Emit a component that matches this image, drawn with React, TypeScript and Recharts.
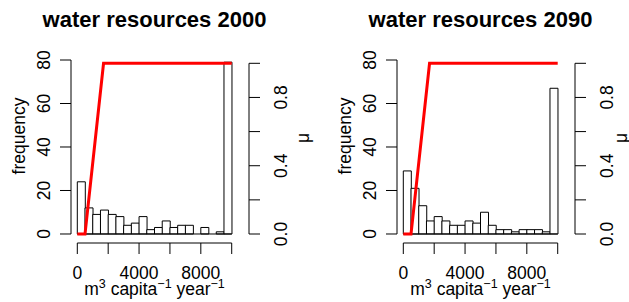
import React from 'react';
import { ComposedChart, Bar, Line, XAxis, YAxis, ReferenceLine, Label } from 'recharts';

// histogram bins (lower edge, m3 per capita per year), width 500
const binStarts = [0, 500, 1000, 1500, 2000, 2500, 3000, 3500, 4000, 4500, 5000, 5500, 6000, 6500, 7000, 7500, 8000, 8500, 9000, 9500];
// number of countries per bin
const counts2000 = [24, 12, 9, 11, 9, 8, 4, 5, 8, 2, 3, 6, 3, 4, 4, 0, 3, 0, 1, 79];
const counts2090 = [29, 21, 13, 6, 8, 6, 4, 4, 6, 5, 10, 4, 2, 2, 1, 2, 2, 2, 1, 67];

// membership function (red line)
const muBreaks = [0, 500, 1700, 10000];
const muValues = [0, 0, 1, 1];

const xTicks = [0, 2000, 4000, 6000, 8000, 10000];
const xTickLabels = ['0', '', '4000', '', '8000', ''];
const freqTicks = [0, 20, 40, 60, 80];
const freqTickLabels = ['0', '20', '40', '60', '80'];
const muTicks = [0, 0.2, 0.4, 0.6, 0.8, 1];
const muTickLabels = ['0.0', '', '0.4', '', '0.8', ''];

const FONT = '"Liberation Sans", Arial, Helvetica, sans-serif';
const FS = 17.5;

// axis domains chosen so the R-style 4% extension lands where the original plot region is
const X_DOMAIN = [-408, 11120];
const FREQ_DOMAIN = [-4.14, 81.84];
const MU_DOMAIN = [-0.0527, 1.0428];

const muLine = muBreaks.map((x, i) => ({ x, mu: muValues[i] }));

const XTick = ({ x, y, payload }: any) => {
  const label = xTickLabels[xTicks.indexOf(payload.value)];
  if (!label) return null;
  return (
    <text x={x} y={y + 25} textAnchor="middle" fontSize={FS} fontFamily={FONT} fill="#000">
      {label}
    </text>
  );
};

const FreqTick = ({ x, y, payload }: any) => {
  const label = freqTickLabels[freqTicks.indexOf(payload.value)];
  const tx = x - 10;
  return (
    <text x={tx} y={y} transform={`rotate(-90, ${tx}, ${y})`} textAnchor="middle" fontSize={FS} fontFamily={FONT} fill="#000">
      {label}
    </text>
  );
};

const MuTick = ({ x, y, payload }: any) => {
  const label = muTickLabels[muTicks.findIndex(t => Math.abs(t - payload.value) < 1e-6)];
  if (!label) return null;
  const tx = x + 26.7;
  return (
    <text x={tx} y={y} transform={`rotate(-90, ${tx}, ${y})`} textAnchor="middle" fontSize={FS} fontFamily={FONT} fill="#000">
      {label}
    </text>
  );
};

interface PanelProps {
  title: string;
  counts: number[];
  left: number;
  muLabelX: number;
}

const Panel: React.FC<PanelProps> = ({ title, counts, left, muLabelX }) => {
  const data = binStarts.map((b, i) => ({ bin: b, n: counts[i] }));
  return (
    <div style={{ position: 'absolute', left, top: 0, width: 326, height: 302 }}>
      <div
        style={{
          position: 'absolute', left: 0, top: 8.7, width: 309, textAlign: 'center',
          font: `bold 22px ${FONT}`, lineHeight: '22px', color: '#000',
        }}
      >
        {title}
      </div>
      <ComposedChart
        width={326}
        height={302}
        data={data}
        barCategoryGap={0}
        barGap={0}
        margin={{ top: 56, right: 0, bottom: 19, left: 0 }}
      >
        <XAxis xAxisId="bin" dataKey="bin" type="category" orientation="top" height={0} hide padding={{ left: 6.3, right: 17.3 }} />
        <XAxis
          xAxisId="num"
          dataKey="x"
          type="number"
          domain={X_DOMAIN}
          allowDataOverflow
          ticks={xTicks}
          interval={0}
          height={40}
          axisLine={false}
          tickSize={11}
          tickMargin={0}
          stroke="#000"
          tickLine={{ stroke: '#000' }}
          tick={<XTick />}
        >
          <Label
            content={() => (
              <text x={154.5} y={295} textAnchor="middle" fontSize={FS} fontFamily={FONT} fill="#000">
                m<tspan dy={-7} fontSize={12.5}>3</tspan>
                <tspan dy={7} fontSize={FS}> capita</tspan>
                <tspan dy={-7} fontSize={12.5}>−1</tspan>
                <tspan dy={7} fontSize={FS}> year</tspan>
                <tspan dy={-7} fontSize={12.5}>−1</tspan>
              </text>
            )}
          />
        </XAxis>
        <YAxis
          yAxisId="freq"
          orientation="left"
          width={71}
          domain={FREQ_DOMAIN}
          allowDataOverflow
          ticks={freqTicks}
          interval={0}
          axisLine={false}
          tickSize={11}
          tickMargin={0}
          stroke="#000"
          tickLine={{ stroke: '#000' }}
          tick={<FreqTick />}
        >
          <Label
            content={() => (
              <text x={25} y={136} transform="rotate(-90, 25, 136)" textAnchor="middle" fontSize={FS} fontFamily={FONT} fill="#000">
                frequency
              </text>
            )}
          />
        </YAxis>
        <YAxis
          yAxisId="mu"
          orientation="right"
          width={77}
          domain={MU_DOMAIN}
          allowDataOverflow
          ticks={muTicks}
          interval={0}
          axisLine={false}
          tickSize={11}
          tickMargin={0}
          stroke="#000"
          tickLine={{ stroke: '#000' }}
          tick={<MuTick />}
        >
          <Label
            content={() => (
              <text x={muLabelX} y={138} transform={`rotate(-90, ${muLabelX}, 138)`} textAnchor="middle" fontSize={FS} fontFamily={FONT} fill="#000">
                μ
              </text>
            )}
          />
        </YAxis>

        <Bar xAxisId="bin" yAxisId="freq" dataKey="n" fill="#fff" stroke="#000" strokeWidth={1} isAnimationActive={false} />
        <ReferenceLine xAxisId="num" yAxisId="freq" segment={[{ x: 0, y: 0 }, { x: 10000, y: 0 }]} stroke="#000" ifOverflow="visible" />

        <Line
          xAxisId="num"
          yAxisId="mu"
          data={muLine}
          dataKey="mu"
          type="linear"
          stroke="#ff0000"
          strokeWidth={3}
          dot={false}
          activeDot={false}
          isAnimationActive={false}
        />

        {/* R-style axis lines that only span the tick range */}
        <ReferenceLine xAxisId="num" yAxisId="freq" segment={[{ x: 0, y: FREQ_DOMAIN[0] }, { x: 10000, y: FREQ_DOMAIN[0] }]} stroke="#000" ifOverflow="visible" />
        <ReferenceLine xAxisId="num" yAxisId="freq" segment={[{ x: X_DOMAIN[0], y: 0 }, { x: X_DOMAIN[0], y: 80 }]} stroke="#000" ifOverflow="visible" />
        <ReferenceLine xAxisId="num" yAxisId="mu" segment={[{ x: X_DOMAIN[1], y: 0 }, { x: X_DOMAIN[1], y: 1 }]} stroke="#000" ifOverflow="visible" />
      </ComposedChart>
    </div>
  );
};

export default function App() {
  return (
    <div style={{ position: 'absolute', left: 0, top: 0, width: 629, height: 302, overflow: 'hidden', background: '#fff' }}>
      <Panel title="water resources 2000" counts={counts2000} left={0} muLabelX={309} />
      <Panel title="water resources 2090" counts={counts2090} left={326} muLabelX={301} />
    </div>
  );
}
